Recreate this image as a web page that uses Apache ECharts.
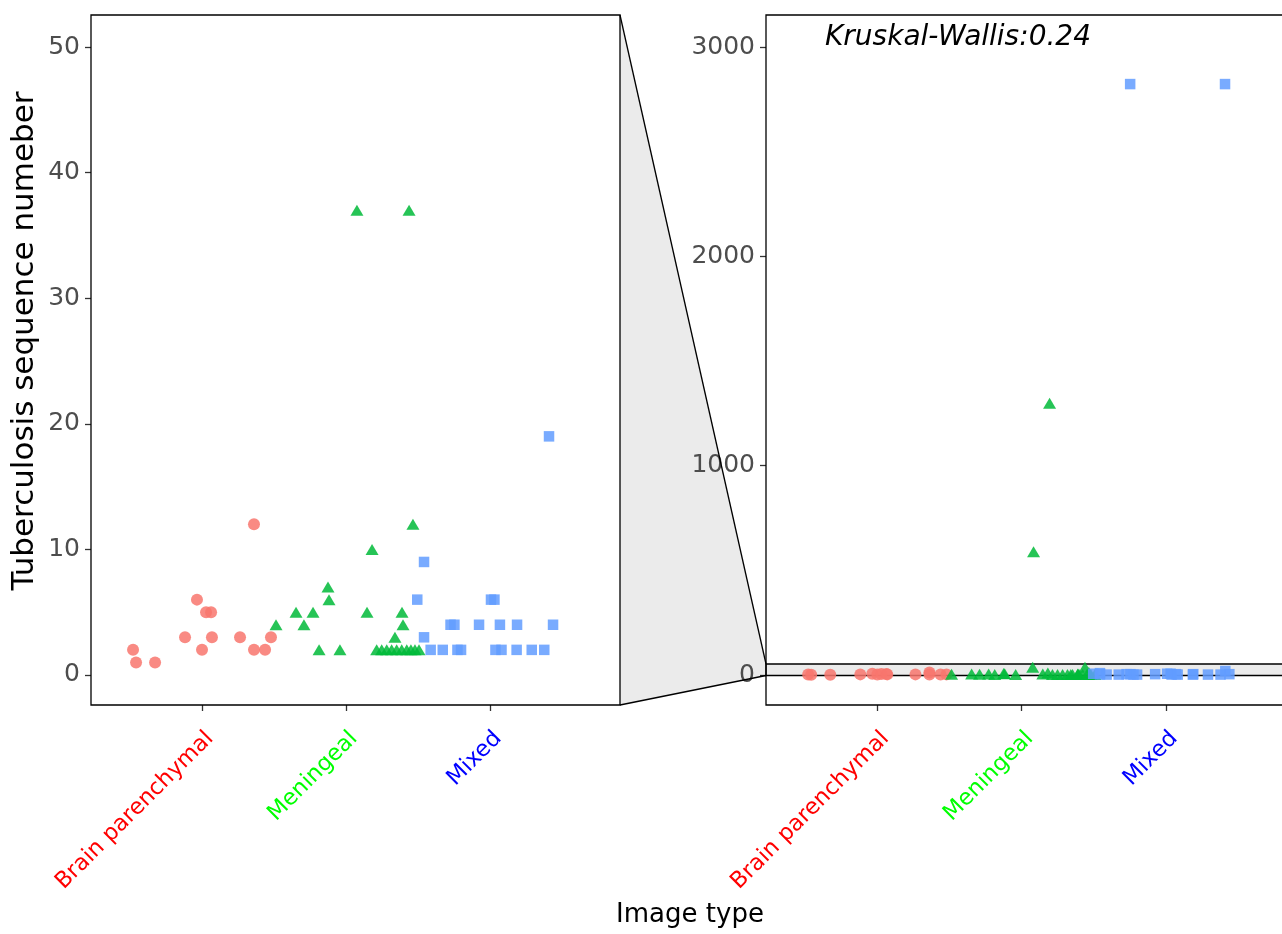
<!DOCTYPE html>
<html>
<head>
<meta charset="utf-8">
<script src="https://cdn.jsdelivr.net/npm/echarts@6/dist/echarts.min.js"></script>
<style>html,body{margin:0;padding:0;background:#fff;overflow:hidden}#c{width:1297px;height:934px}</style>
</head>
<body>
<div id="c"></div>
<script>
// ---- data ----
var categories = ['Brain parenchymal', 'Meningeal', 'Mixed'];
var categoryColors = ['#FF0000', '#00FF00', '#0000FF'];
var categoryPos = [1, 2, 3];

var redX = [0.521, 0.542, 0.674, 0.882, 0.965, 1.000, 1.028, 1.063, 1.069, 1.264, 1.361, 1.361, 1.438, 1.479];
var redY = [2, 1, 1, 3, 6, 2, 5, 5, 3, 3, 12, 2, 2, 3];

var greenX = [1.514, 1.653, 1.708, 1.771, 1.813, 1.875, 1.882, 1.958, 2.076, 2.146, 2.181, 2.340, 2.389, 2.396, 2.438, 2.465,
              2.213, 2.248, 2.283, 2.317, 2.352, 2.387, 2.422, 2.451, 2.479, 2.507, 2.082, 2.193];
var greenY = [4, 5, 4, 5, 2, 7, 6, 2, 37, 5, 10, 3, 5, 4, 37, 12,
              2, 2, 2, 2, 2, 2, 2, 2, 2, 2, 589, 1298];

var blueX = [3.410, 2.542, 2.495, 3.007, 3.031, 2.726, 2.753, 2.924, 3.069, 3.188, 3.438, 2.542,
             2.588, 2.672, 2.774, 2.799, 3.038, 3.080, 3.185, 3.290, 3.377, 2.751, 3.408];
var blueY = [19, 9, 6, 6, 6, 4, 4, 4, 4, 4, 4, 3,
             2, 2, 2, 2, 2, 2, 2, 2, 2, 2823, 2823];

var zoomTicks = [0, 10, 20, 30, 40, 50];
var fullTicks = [0, 1000, 2000, 3000];
var zoomRange = [-2.39, 52.55];
var fullRange = [-143.3, 3153];
var xRange = [0.229, 3.903];

var yTitle = 'Tuberculosis sequence numeber';
var xTitle = 'Image type';
var statText = 'Kruskal-Wallis:0.24';

// ---- chart ----
var FONT = 'DejaVu Sans';
function pairs(xs, ys) { return xs.map(function (x, i) { return [x, ys[i]]; }); }

var rich = {};
categories.forEach(function (c, i) { rich['c' + i] = { color: categoryColors[i], fontSize: 22.5, fontFamily: FONT }; });

function xAxisDef(gi) {
  return {
    type: 'value', gridIndex: gi, min: xRange[0], max: xRange[1],
    axisLine: { show: false, onZero: false },
    splitLine: { show: false },
    axisTick: { show: true, customValues: categoryPos, length: 6, lineStyle: { color: '#333', width: 1.3 } },
    axisLabel: {
      customValues: categoryPos, rotate: 45, margin: 22,
      align: 'right', verticalAlign: 'top',
      formatter: function (v) { var i = categoryPos.indexOf(Math.round(v)); return '{c' + i + '|' + categories[i] + '}'; },
      rich: rich
    }
  };
}
function yAxisDef(gi, range, ticks) {
  return {
    type: 'value', gridIndex: gi, min: range[0], max: range[1],
    axisLine: { show: false, onZero: false },
    splitLine: { show: false },
    axisTick: { show: true, customValues: ticks, length: 6, lineStyle: { color: '#333', width: 1.3 } },
    axisLabel: { customValues: ticks, color: '#4D4D4D', fontSize: 25, fontFamily: FONT, margin: 11,
                 formatter: function (v) { return String(v); } }
  };
}

var pointStyle = function (c) { return { color: c, opacity: 0.85 }; };
var series = [];
[0, 1].forEach(function (gi) {
  series.push({ type: 'scatter', xAxisIndex: gi, yAxisIndex: gi, symbol: 'circle', symbolSize: 12, itemStyle: pointStyle('#F8766D'), data: pairs(redX, redY), clip: true, z: 5 });
  series.push({ type: 'scatter', xAxisIndex: gi, yAxisIndex: gi, symbol: 'triangle', symbolSize: [13, 11], itemStyle: pointStyle('#00BA38'), data: pairs(greenX, greenY), clip: true, z: 5 });
  series.push({ type: 'scatter', xAxisIndex: gi, yAxisIndex: gi, symbol: 'rect', symbolSize: 10.5, itemStyle: pointStyle('#619CFF'), data: pairs(blueX, blueY), clip: true, z: 5 });
});
// zoom region band on the full-range panel
series[3].markArea = {
  silent: true,
  itemStyle: { color: '#EBEBEB', borderColor: '#000', borderWidth: 1.3, opacity: 1 },
  data: [[{ yAxis: zoomRange[0] }, { yAxis: zoomRange[1] }]],
  z: 1
};

var chart = echarts.init(document.getElementById('c'), null, { renderer: 'canvas' });
var option = {
  animation: false,
  backgroundColor: '#fff',
  grid: [
    { left: 91, top: 15, width: 529, bottom: 229, show: true, borderColor: '#000', borderWidth: 1.3, backgroundColor: 'transparent', z: 3 },
    { left: 766, top: 15, width: 530.5, bottom: 229, show: true, borderColor: '#000', borderWidth: 1.3, backgroundColor: 'transparent', z: 3 }
  ],
  xAxis: [xAxisDef(0), xAxisDef(1)],
  yAxis: [yAxisDef(0, zoomRange, zoomTicks), yAxisDef(1, fullRange, fullTicks)],
  series: series
};
chart.setOption(option);

// connector between the zoomed panel and the zoom band, from the axes' own scales
var pTR = chart.convertToPixel({ gridIndex: 0 }, [xRange[1], zoomRange[1]]);
var pBR = chart.convertToPixel({ gridIndex: 0 }, [xRange[1], zoomRange[0]]);
var qT = chart.convertToPixel({ gridIndex: 1 }, [xRange[0], zoomRange[1]]);
var qB = chart.convertToPixel({ gridIndex: 1 }, [xRange[0], zoomRange[0]]);
var mid = chart.convertToPixel({ gridIndex: 0 }, [xRange[0], (zoomRange[0] + zoomRange[1]) / 2]);

chart.setOption({
  graphic: [
    { type: 'polygon', z: 0, shape: { points: [pTR, qT, qB, pBR] }, style: { fill: '#EBEBEB', stroke: null } },
    { type: 'line', z: 4, shape: { x1: pTR[0], y1: pTR[1], x2: qT[0], y2: qT[1] }, style: { stroke: '#000', lineWidth: 1.3 } },
    { type: 'line', z: 4, shape: { x1: pBR[0], y1: pBR[1], x2: qB[0], y2: qB[1] }, style: { stroke: '#000', lineWidth: 1.3 } },
    { type: 'text', z: 6, x: 825, y: 38, style: { text: statText, font: 'italic 28px "DejaVu Sans"', fill: '#000', textVerticalAlign: 'middle' } },
    { type: 'text', z: 6, x: 690, y: 915, style: { text: xTitle, font: '26px "DejaVu Sans"', fill: '#000', textAlign: 'center', textVerticalAlign: 'middle' } },
    { type: 'text', z: 6, x: 25, y: mid[1] - 19, rotation: Math.PI / 2, style: { text: yTitle, font: '31px "DejaVu Sans"', fill: '#000', textAlign: 'center', textVerticalAlign: 'middle' } }
  ]
});
</script>
</body>
</html>
